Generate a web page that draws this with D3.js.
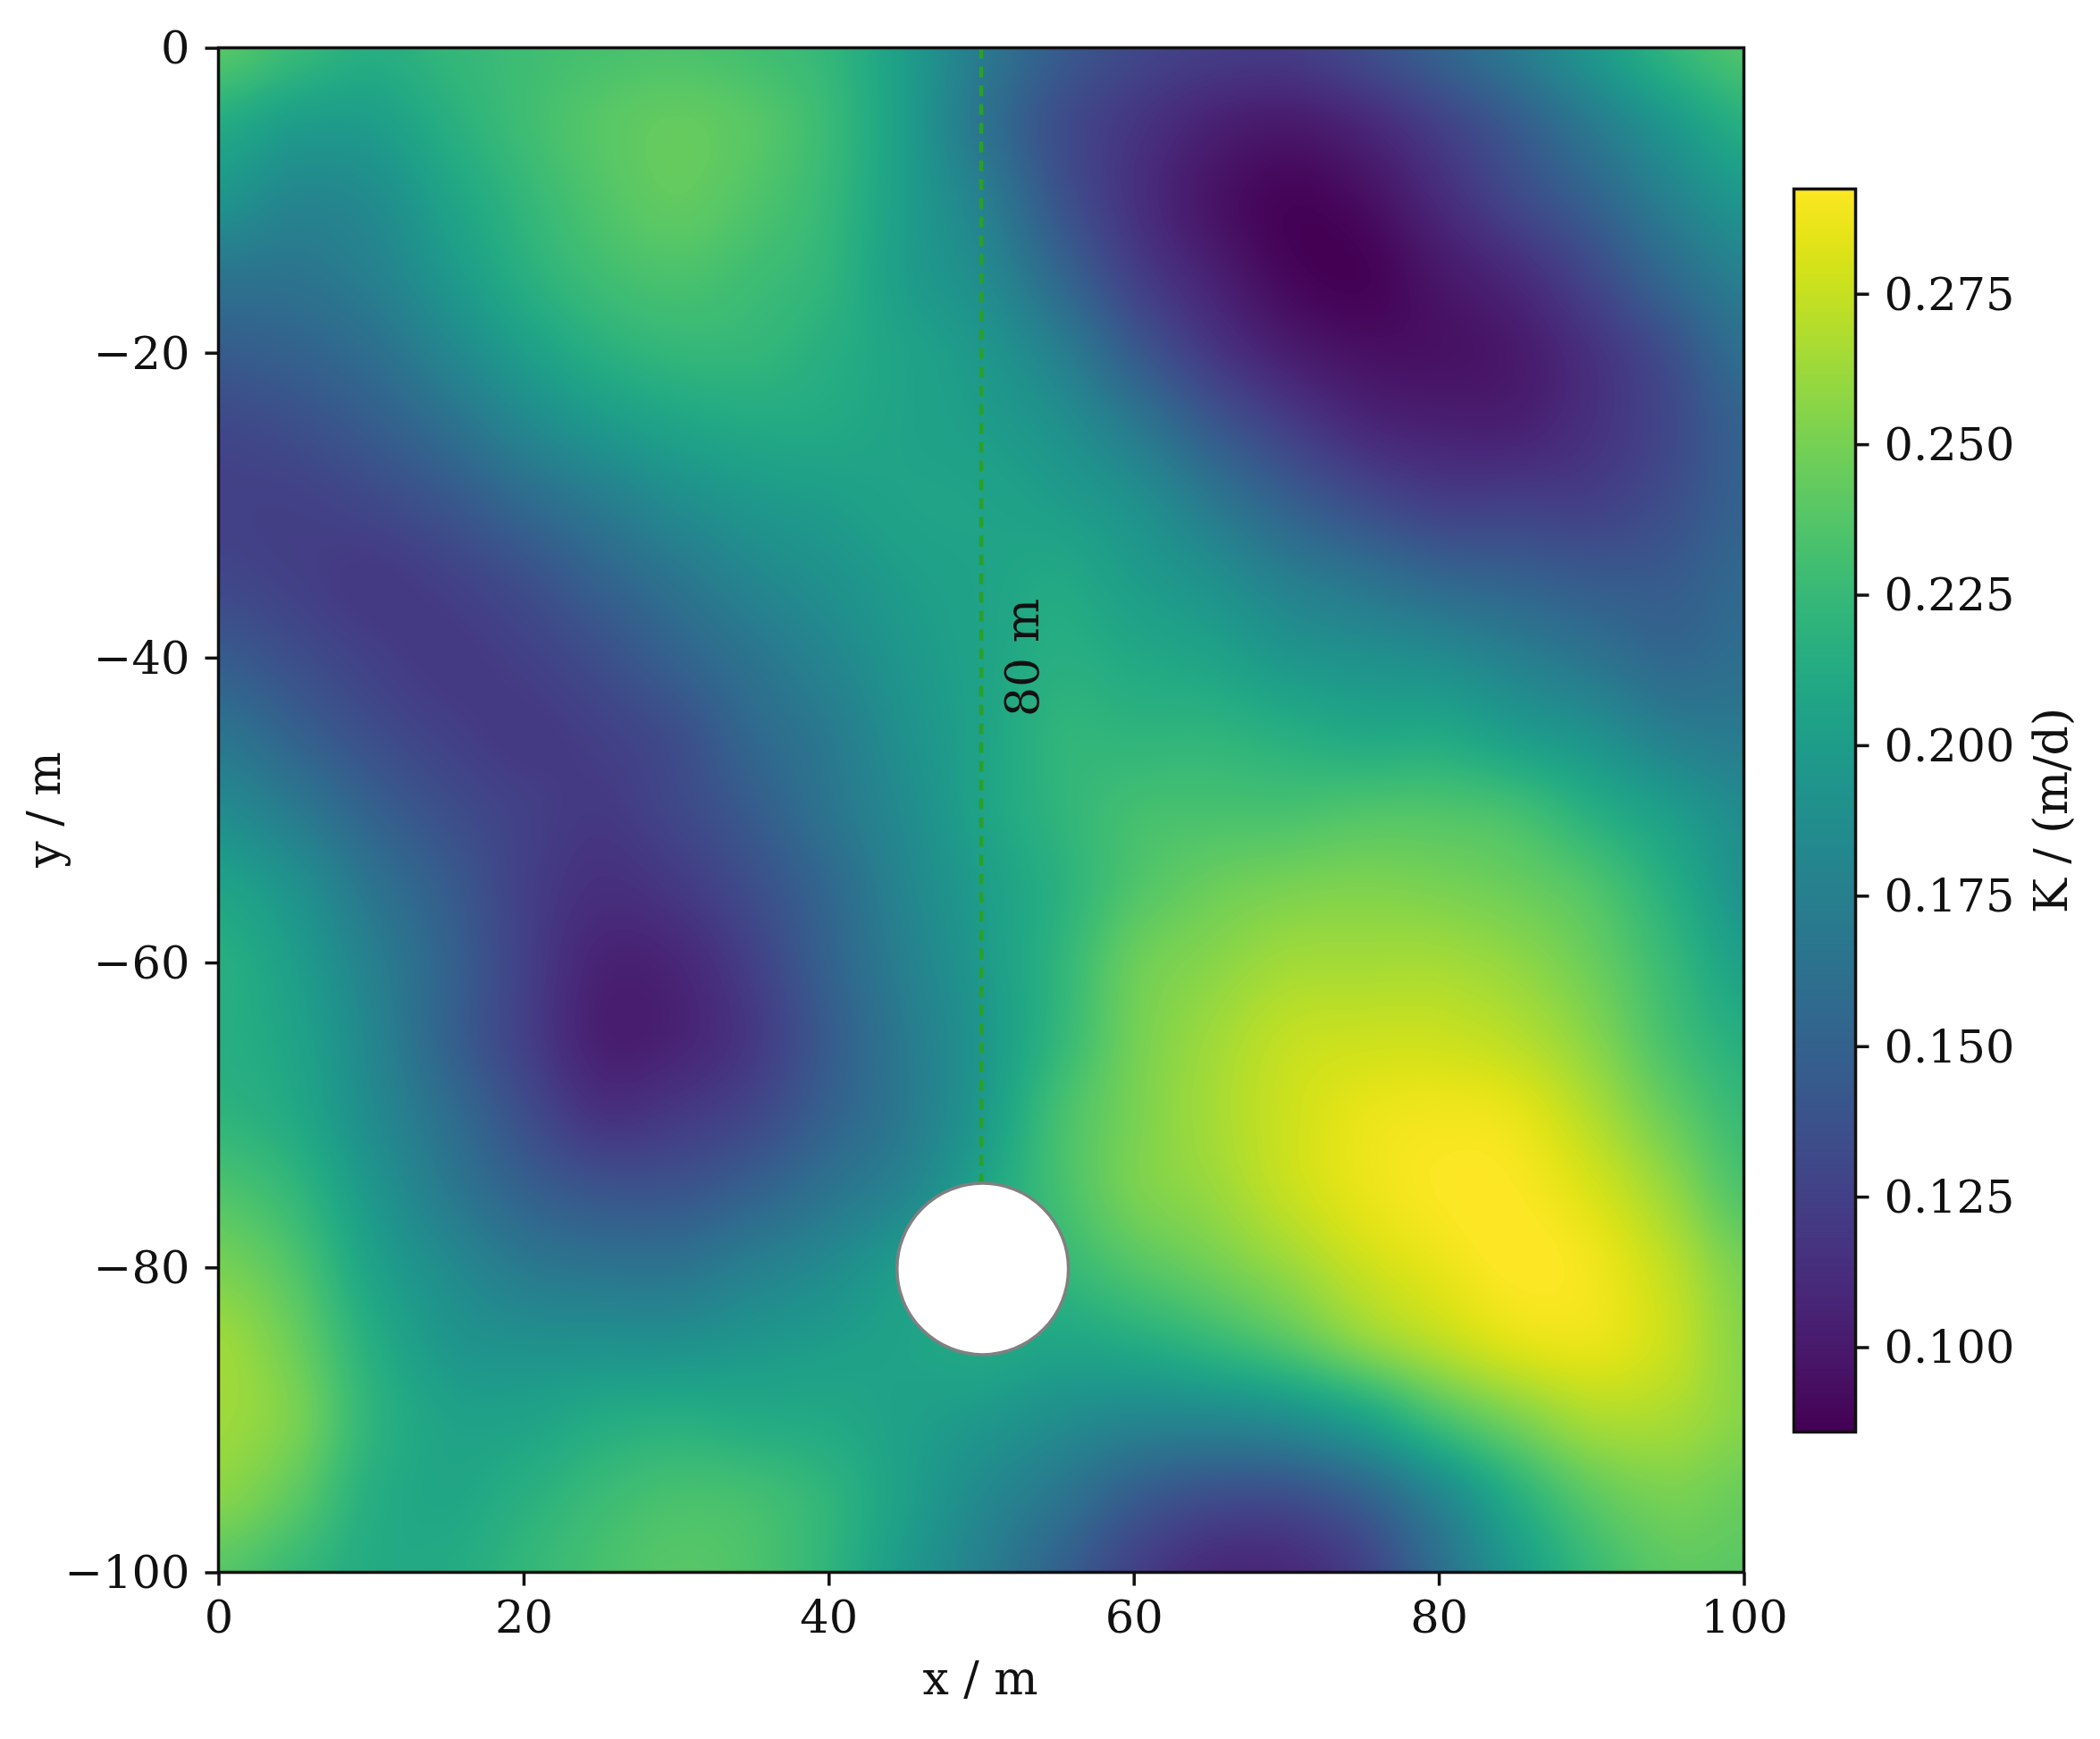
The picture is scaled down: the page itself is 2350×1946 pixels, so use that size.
<!DOCTYPE html>
<html><head><meta charset="utf-8">
<script src="https://cdn.jsdelivr.net/npm/d3@7"></script>
<style>
html,body{margin:0;padding:0;background:#fff;width:2350px;height:1946px;overflow:hidden}
#wrap{position:relative;width:2350px;height:1946px}
canvas,svg{position:absolute;left:0;top:0}
svg{filter:blur(0.55px)}
text{font-family:"DejaVu Serif",serif;fill:#111}
</style></head><body><div id="wrap"><canvas id="field"></canvas><svg id="chart" width="2350" height="1946"></svg></div>
<script>
const xGrid = [0,5,10,15,20,25,30,35,40,45,50,55,60,65,70,75,80,85,90,95,100];
const yGrid = [0,-5,-10,-15,-20,-25,-30,-35,-40,-45,-50,-55,-60,-65,-70,-75,-80,-85,-90,-95,-100];
const row00 = [.238,.225,.215,.222,.228,.232,.234,.230,.222,.200,.170,.145,.130,.123,.122,.133,.150,.170,.195,.220,.235];
const row05 = [.212,.200,.200,.215,.228,.238,.243,.238,.225,.200,.165,.135,.118,.105,.100,.108,.125,.145,.170,.195,.215];
const row10 = [.192,.180,.185,.205,.222,.235,.242,.235,.223,.200,.175,.140,.115,.097,.088,.093,.110,.130,.150,.175,.195];
const row15 = [.165,.165,.175,.195,.215,.228,.233,.228,.220,.200,.185,.155,.125,.105,.090,.087,.098,.110,.130,.155,.175];
const row20 = [.145,.150,.160,.180,.200,.215,.222,.222,.215,.205,.195,.175,.145,.120,.103,.095,.095,.100,.115,.135,.160];
const row25 = [.130,.135,.145,.160,.180,.195,.205,.210,.210,.205,.200,.190,.170,.145,.125,.110,.105,.105,.115,.130,.150];
const row30 = [.125,.125,.130,.140,.155,.170,.185,.195,.200,.205,.205,.200,.190,.170,.150,.135,.125,.125,.125,.135,.150];
const row35 = [.130,.125,.120,.125,.135,.150,.165,.180,.190,.200,.205,.210,.200,.190,.175,.165,.155,.150,.145,.145,.155];
const row40 = [.145,.135,.125,.120,.125,.135,.150,.165,.180,.195,.205,.215,.210,.205,.195,.190,.185,.175,.165,.155,.160];
const row45 = [.165,.150,.135,.125,.120,.125,.135,.155,.170,.190,.205,.220,.220,.220,.215,.210,.210,.200,.190,.175,.170];
const row50 = [.185,.170,.150,.135,.125,.120,.130,.145,.165,.185,.205,.220,.230,.232,.232,.235,.235,.230,.215,.200,.185];
const row55 = [.205,.190,.165,.145,.125,.114,.120,.135,.155,.180,.200,.217,.235,.245,.250,.252,.250,.245,.235,.215,.192];
const row60 = [.215,.200,.175,.150,.125,.106,.108,.125,.150,.175,.197,.220,.245,.255,.263,.264,.264,.258,.245,.225,.203];
const row65 = [.215,.205,.180,.150,.125,.104,.106,.120,.145,.170,.194,.222,.248,.262,.273,.276,.276,.270,.255,.232,.215];
const row70 = [.220,.210,.185,.160,.135,.116,.120,.130,.150,.170,.197,.230,.250,.264,.276,.285,.288,.285,.268,.245,.225];
const row75 = [.235,.222,.195,.170,.150,.140,.140,.150,.165,.180,.205,.230,.250,.260,.274,.285,.291,.291,.280,.260,.235];
const row80 = [.250,.235,.205,.185,.170,.165,.165,.175,.185,.200,.210,.222,.236,.247,.260,.275,.285,.292,.288,.272,.250];
const row85 = [.262,.245,.215,.195,.190,.190,.190,.195,.200,.205,.210,.207,.212,.222,.236,.255,.270,.282,.285,.275,.255];
const row90 = [.262,.250,.220,.205,.205,.212,.215,.212,.210,.203,.196,.187,.180,.180,.186,.203,.230,.250,.265,.265,.255];
const row95 = [.255,.240,.215,.208,.216,.226,.232,.230,.220,.202,.183,.166,.146,.135,.135,.150,.180,.215,.240,.250,.245];
const row100= [.238,.225,.212,.212,.222,.232,.238,.234,.220,.197,.175,.150,.125,.110,.110,.125,.160,.197,.225,.240,.240];
const kRows = [row00,row05,row10,row15,row20,row25,row30,row35,row40,row45,row50,row55,row60,row65,row70,row75,row80,row85,row90,row95,row100];

const xTicks = [0,20,40,60,80,100];
const yTicks = [0,-20,-40,-60,-80,-100];
const cbTicks = [0.100,0.125,0.150,0.175,0.200,0.225,0.250,0.275];
const kDomain = [0.0859,0.2924];
const transectX = [50,50];
const transectY = [0,-74.4];
const wellCenter = [50.1,-80.1];
const wellRadius = 5.62;
const labels = {x:"x / m", y:"y / m", k:"K / (m/d)", t:"80 m"};

const L=244.5,R=1951.5,T=53.5,B=1759.5, CL=2007.5,CR=2076.5,CT=211.5,CB=1602.5, FS=51, TS=52;
const x=d3.scaleLinear().domain([0,100]).range([L,R]);
const y=d3.scaleLinear().domain([0,-100]).range([T,B]);
const color=d3.scaleSequential(d3.interpolateViridis).domain(kDomain);
const cbY=d3.scaleLinear().domain(kDomain).range([CB,CT]);

// Catmull-Rom resampling of the read grid for display
function cr(p0,p1,p2,p3,t){return 0.5*((2*p1)+(-p0+p2)*t+(2*p0-5*p1+4*p2-p3)*t*t+(-p0+3*p1-3*p2+p3)*t*t*t);}
function sample(u,v){
  const n=xGrid.length-1,m=yGrid.length-1;
  const i=Math.min(n-1,Math.floor(u)),j=Math.min(m-1,Math.floor(v));
  const s=u-i,t=v-j,c=[];
  for(let b=-1;b<=2;b++){
    const r=kRows[Math.max(0,Math.min(m,j+b))];
    c.push(cr(r[Math.max(0,i-1)],r[i],r[Math.min(n,i+1)],r[Math.min(n,i+2)],s));
  }
  return cr(c[0],c[1],c[2],c[3],t);
}
const W=Math.round(R-L),H=Math.round(B-T);
const canvas=d3.select("#field").attr("width",W).attr("height",H)
  .style("left",L+"px").style("top",T+"px").node();
const ctx=canvas.getContext("2d");
const img=ctx.createImageData(W,H);
for(let py=0;py<H;py++){
  const v=(T+py+0.5-y(0))/(y(-5)-y(0));
  for(let px=0;px<W;px++){
    const u=(L+px+0.5-x(0))/(x(5)-x(0));
    const c=d3.rgb(color(Math.max(kDomain[0],Math.min(kDomain[1],sample(u,v)))));
    const o=(py*W+px)*4;
    img.data[o]=c.r;img.data[o+1]=c.g;img.data[o+2]=c.b;img.data[o+3]=255;
  }
}
ctx.putImageData(img,0,0);

const svg=d3.select("#chart");
// transect and well
svg.append("path").datum(d3.zip(transectX,transectY))
  .attr("d",d3.line().x(d=>x(d[0])).y(d=>y(d[1])))
  .attr("fill","none").attr("stroke","#2aa02a").attr("stroke-width",4.5).attr("stroke-dasharray","12,9");
svg.append("circle").attr("cx",x(wellCenter[0])).attr("cy",y(wellCenter[1]))
  .attr("r",x(wellRadius)-x(0)).attr("fill","#fff").attr("stroke","#808080").attr("stroke-width",3.5);
svg.append("text").attr("transform",`translate(1162,736) rotate(-90)`).attr("text-anchor","middle")
  .attr("font-size",TS).text(labels.t);

// axes
function style(g,fs,dy){
  g.selectAll("text").attr("font-size",fs).attr("font-family",'"DejaVu Serif",serif').attr("fill","#111")
    .attr("transform",dy?`translate(0,${dy})`:null);
  g.selectAll("line").attr("stroke","#111").attr("stroke-width",3.5);
  g.select(".domain").remove();
}
svg.append("g").attr("transform",`translate(0,${B})`)
  .call(d3.axisBottom(x).tickValues(xTicks).tickFormat(d3.format("d")).tickSize(15).tickPadding(16)).call(style,FS,0);
svg.append("g").attr("transform",`translate(${L},0)`)
  .call(d3.axisLeft(y).tickValues(yTicks).tickFormat(d3.format("d")).tickSize(15).tickPadding(17)).call(style,FS,1);
svg.append("rect").attr("x",L).attr("y",T).attr("width",R-L).attr("height",B-T).attr("fill","none").attr("stroke","#111").attr("stroke-width",3.5);

// colourbar
const cbSteps=d3.range(0,256).map(i=>kDomain[0]+(kDomain[1]-kDomain[0])*i/255);
svg.append("g").selectAll("rect").data(cbSteps.slice(0,255)).join("rect")
  .attr("x",CL).attr("width",CR-CL)
  .attr("y",(d,i)=>cbY(cbSteps[i+1]))
  .attr("height",(d,i)=>cbY(d)-cbY(cbSteps[i+1])+(i?1:0))
  .attr("fill",d=>color(d));
svg.append("g").attr("transform",`translate(${CR},0)`)
  .call(d3.axisRight(cbY).tickValues(cbTicks).tickFormat(d3.format(".3f")).tickSize(15).tickPadding(17)).call(style,FS,1);
svg.append("rect").attr("x",CL).attr("y",CT).attr("width",CR-CL).attr("height",CB-CT).attr("fill","none").attr("stroke","#111").attr("stroke-width",3.5);

// titles
svg.append("text").attr("x",1097).attr("y",1896).attr("text-anchor","middle").attr("font-size",TS).text(labels.x);
svg.append("text").attr("transform","translate(67,906) rotate(-90)").attr("text-anchor","middle").attr("font-size",TS).text(labels.y);
svg.append("text").attr("transform","translate(2313,907) rotate(-90)").attr("text-anchor","middle").attr("font-size",TS).text(labels.k);
</script></body></html>
